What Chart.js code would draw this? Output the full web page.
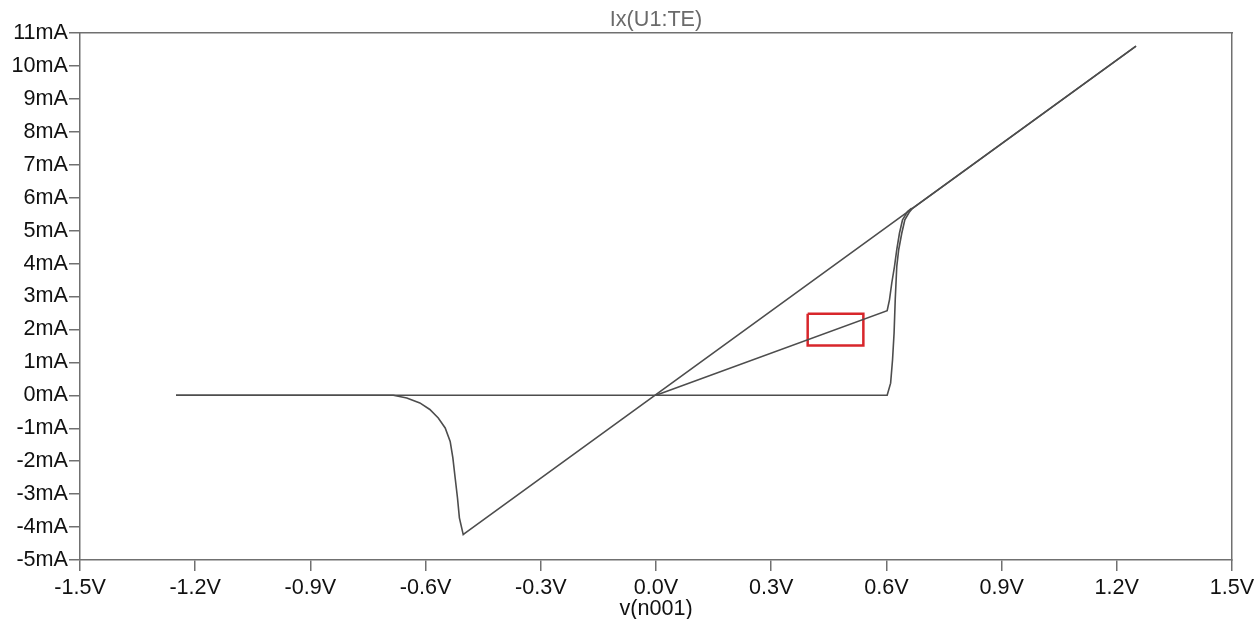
<!DOCTYPE html>
<html>
<head>
<meta charset="utf-8">
<script src="https://cdn.jsdelivr.net/npm/chart.js@4/dist/chart.umd.min.js"></script>
<style>
  html, body { margin: 0; padding: 0; background: #fff; }
  #wrap { width: 1259px; height: 619px; }
</style>
</head>
<body>
<div id="wrap"><canvas id="ivChart" width="1259" height="619"></canvas></div>
<script>
// tick labels
const xTickValues = [-1.5, -1.2, -0.9, -0.6, -0.3, 0, 0.3, 0.6, 0.9, 1.2, 1.5];
const yTickValues = [-5, -4, -3, -2, -1, 0, 1, 2, 3, 4, 5, 6, 7, 8, 9, 10, 11];

// off state sweep: flat at 0 then switching on near 0.6V (V, mA)
const offSweepV = [-1.25, 0.602, 0.611, 0.616, 0.620, 0.623, 0.627, 0.632, 0.640, 0.648, 0.659, 0.668, 1.25];
const offSweepI = [0, 0, 0.37, 1.08, 1.89, 2.90, 3.91, 4.42, 4.92, 5.33, 5.55, 5.68, 10.6];

// on state return sweep down to -0.5V, then switching off
const onReturnV = [1.25, -0.499, -0.502, -0.512, -0.517, -0.523, -0.529, -0.536, -0.549, -0.567, -0.589, -0.615, -0.649, -0.684, -1.25];
const onReturnI = [10.6, -4.20, -4.23, -3.72, -3.11, -2.51, -1.90, -1.40, -0.99, -0.69, -0.43, -0.23, -0.08, 0, 0];

// intermediate branch from origin
const midBranchV = [0, 0.602, 0.608, 0.614, 0.621, 0.627, 0.634, 0.642, 0.655, 0.666];
const midBranchI = [0, 2.57, 2.90, 3.41, 3.91, 4.42, 4.92, 5.33, 5.58, 5.68];

// highlighted box
const boxV = [0.395, 0.54, 0.54, 0.395, 0.395];
const boxI = [2.48, 2.48, 1.51, 1.51, 2.48];

function pts(xs, ys) {
    return xs.map((x, i) => ({ x: x, y: ys[i] }));
}

const lineColor = '#4d4d4d';
const axisColor = '#707070';
const fontFamily = '"Liberation Sans", Arial, sans-serif';
const fontSize = 21.6;

const ctx = document.getElementById('ivChart').getContext('2d');
const ivChart = new Chart(ctx, {
    type: 'scatter',
    data: {
        datasets: [
            { data: pts(offSweepV, offSweepI), borderColor: lineColor },
            { data: pts(onReturnV, onReturnI), borderColor: lineColor },
            { data: pts(midBranchV, midBranchI), borderColor: lineColor },
            { data: pts(boxV, boxI), borderColor: '#d8262b', borderWidth: 2.5 }
        ]
    },
    options: {
        responsive: false,
        animation: false,
        showLine: true,
        elements: {
            point: { radius: 0 },
            line: { borderWidth: 1.6, tension: 0, fill: false }
        },
        layout: { padding: { left: 0, right: 27, top: 0, bottom: 0 } },
        plugins: {
            legend: { display: false },
            tooltip: { enabled: false }
        },
        scales: {
            x: {
                type: 'linear', position: 'bottom', min: -1.5, max: 1.5,
                afterBuildTicks: (s) => { s.ticks = xTickValues.map(v => ({ value: v })); },
                afterFit: (s) => { s.height = 59; },
                ticks: {
                    color: '#111', padding: 4,
                    font: { family: fontFamily, size: fontSize },
                    callback: (v) => v.toFixed(1) + 'V'
                },
                grid: { drawOnChartArea: false, tickLength: 11, color: axisColor, lineWidth: 1.5 },
                border: { color: axisColor, width: 1.5 },
                title: {
                    display: true, text: 'v(n001)', color: '#111',
                    font: { family: fontFamily, size: fontSize }, padding: { top: 0, bottom: -3 }
                }
            },
            x2: {
                type: 'linear', position: 'top', min: -1.5, max: 1.5,
                afterFit: (s) => { s.height = 33; },
                ticks: { display: false },
                grid: { display: false, drawTicks: false },
                border: { color: axisColor, width: 1.5 },
                title: {
                    display: true, text: 'Ix(U1:TE)', color: '#6a6a6a',
                    font: { family: fontFamily, size: fontSize }, padding: { top: 7, bottom: 0 }
                }
            },
            y: {
                type: 'linear', position: 'left', min: -5, max: 11,
                afterBuildTicks: (s) => { s.ticks = yTickValues.map(v => ({ value: v })); },
                afterFit: (s) => { s.width = 80; },
                ticks: {
                    color: '#111', padding: 1,
                    font: { family: fontFamily, size: fontSize },
                    callback: (v) => v + 'mA'
                },
                grid: { drawOnChartArea: false, tickLength: 11, color: axisColor, lineWidth: 1.5 },
                border: { color: axisColor, width: 1.5 }
            },
            y2: {
                type: 'linear', position: 'right', min: -5, max: 11,
                afterFit: (s) => { s.width = 0; },
                ticks: { display: false },
                grid: { display: false, drawTicks: false },
                border: { color: axisColor, width: 1.5 }
            }
        }
    }
});
</script>
</body>
</html>
